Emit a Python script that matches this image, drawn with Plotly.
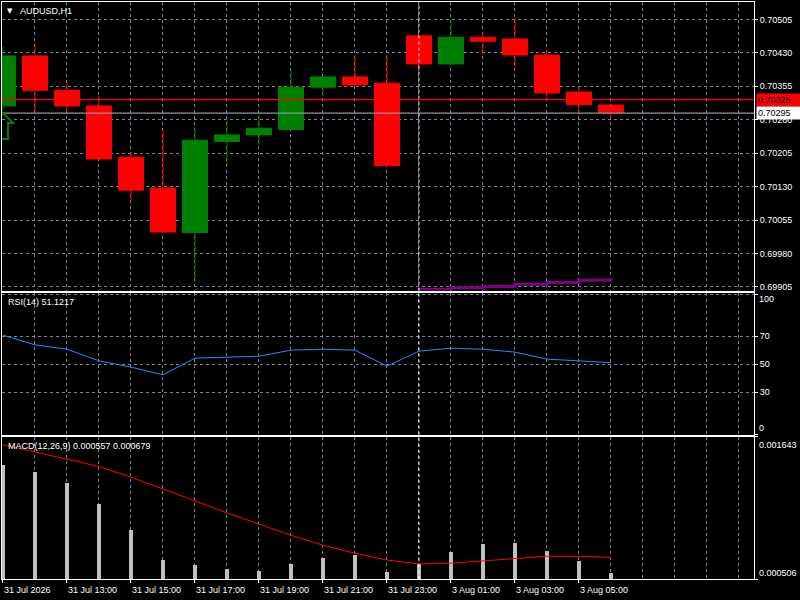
import plotly.graph_objects as go
from plotly.subplots import make_subplots

symbol_label = 'AUDUSD,H1'

# H1 bars, 31 Jul 11:00 -> 3 Aug 06:00 (weekend skipped, like the terminal does)
bar_times = ['31 Jul 11:00', '31 Jul 12:00', '31 Jul 13:00', '31 Jul 14:00', '31 Jul 15:00',
             '31 Jul 16:00', '31 Jul 17:00', '31 Jul 18:00', '31 Jul 19:00', '31 Jul 20:00',
             '31 Jul 21:00', '31 Jul 22:00', '31 Jul 23:00', '3 Aug 00:00', '3 Aug 01:00',
             '3 Aug 02:00', '3 Aug 03:00', '3 Aug 04:00', '3 Aug 05:00', '3 Aug 06:00']

opens = [0.70311, 0.70423, 0.70346, 0.70311, 0.70196, 0.70127, 0.70027, 0.70231, 0.70246, 0.70258,
         0.70353, 0.70376, 0.70362, 0.70468, 0.70405, 0.70465, 0.70461, 0.70425, 0.70342, 0.70313]
highs = [0.70444, 0.70453, 0.70363, 0.70333, 0.70208, 0.70255, 0.70263, 0.70277, 0.70290, 0.70390,
         0.70377, 0.70425, 0.70425, 0.70470, 0.70505, 0.70477, 0.70508, 0.70436, 0.70353, 0.70314]
lows = [0.70300, 0.70294, 0.70299, 0.70190, 0.70096, 0.70027, 0.69917, 0.70176, 0.70223, 0.70256,
        0.70333, 0.70356, 0.70175, 0.70390, 0.70403, 0.70425, 0.70398, 0.70322, 0.70290, 0.70285]
closes = [0.70423, 0.70346, 0.70311, 0.70192, 0.70122, 0.70028, 0.70234, 0.70246, 0.70261, 0.70353,
          0.70376, 0.70358, 0.70177, 0.70405, 0.70465, 0.70456, 0.70425, 0.70340, 0.70314, 0.70295]

# slow moving average, only the tail end is inside the visible price range
ma_values = [None, None, None, None, None, None, None, None, None, None, None, None,
             0.69890, 0.69900, 0.69903, 0.69906, 0.69911, 0.69915, 0.69920, 0.69924]

rsi_values = [70.7, 63.8, 60.7, 52.4, 47.9, 42.4, 54.3, 55.0, 55.7, 60.0,
              60.7, 60.0, 48.6, 59.3, 61.4, 60.7, 58.6, 53.6, 52.1, 51.1217]

macd_main = [0.001421, 0.001365, 0.001277, 0.001109, 0.000901, 0.000661, 0.000621, 0.000588, 0.000572, 0.000629,
             0.000677, 0.000701, 0.000564, 0.000631, 0.000725, 0.000789, 0.000797, 0.000733, 0.000653, 0.000557]
macd_signal = [0.001579, 0.001523, 0.001464, 0.001405, 0.001320, 0.001227, 0.001131, 0.001034, 0.000944, 0.000856,
               0.000776, 0.000712, 0.000658, 0.000626, 0.000632, 0.000650, 0.000672, 0.000688, 0.000688, 0.000679]

ask_price = 0.70325
bid_price = 0.70295
buy_arrow_price = 0.70295

x_tick_text = ['31 Jul 2026', '31 Jul 13:00', '31 Jul 15:00', '31 Jul 17:00', '31 Jul 19:00',
               '31 Jul 21:00', '31 Jul 23:00', '3 Aug 01:00', '3 Aug 03:00', '3 Aug 05:00']

price_range = [0.69897, 0.70544]
macd_range = [0.000506, 0.001643]

bar_pos = list(range(len(bar_times)))
tick_pos = bar_pos[::2]
day_sep = bar_times.index('3 Aug 00:00')

GRID = '#778899'
FONT = 'Liberation Sans'

fig = make_subplots(rows=3, cols=1, shared_xaxes=True)

fig.add_trace(go.Candlestick(x=bar_pos, open=opens, high=highs, low=lows, close=closes,
                             increasing=dict(line=dict(color='#008000', width=1), fillcolor='#008000'),
                             decreasing=dict(line=dict(color='#FF0000', width=1), fillcolor='#FF0000'),
                             whiskerwidth=0, hoverinfo='skip'),
              row=1, col=1)
fig.add_trace(go.Scatter(x=bar_pos, y=ma_values, mode='lines', line=dict(color='#800080', width=3, shape='hv')),
              row=1, col=1)

fig.add_trace(go.Scatter(x=bar_pos, y=rsi_values, mode='lines', line=dict(color='#1E90FF', width=1)),
              row=2, col=1)

fig.add_trace(go.Bar(x=bar_pos, y=macd_main, width=0.1, marker=dict(color='#C0C0C0', line=dict(width=0))),
              row=3, col=1)
fig.add_trace(go.Scatter(x=bar_pos, y=macd_signal, mode='lines', line=dict(color='#FF0000', width=1)),
              row=3, col=1)

# axes: every bar gets a grid line, labels only every second bar
axis_common = dict(showline=True, mirror=True, linecolor='white', linewidth=1, zeroline=False)
for r in (1, 2, 3):
    fig.update_xaxes(range=[-0.03, 23.47], tick0=0, dtick=1, showgrid=True, gridcolor=GRID,
                     griddash='3px,3px', gridwidth=1, showticklabels=False, ticks='',
                     rangeslider_visible=False, row=r, col=1, **axis_common)
fig.update_xaxes(tickvals=tick_pos, ticks='outside', ticklen=3, tickcolor='white',
                 minor=dict(dtick=1, tick0=0, showgrid=True, gridcolor=GRID, griddash='3px,3px'),
                 row=3, col=1)

fig.update_yaxes(side='right', range=price_range, tick0=0.69905, dtick=0.00075, tickformat='.5f',
                 showgrid=True, gridcolor=GRID, griddash='3px,3px', ticks='outside', ticklen=3,
                 tickcolor='white', tickfont=dict(color='white', size=9, family=FONT),
                 domain=[0.5, 1], row=1, col=1, **axis_common)
fig.update_yaxes(side='right', range=[-0.3, 101], tickvals=[0, 30, 50, 70, 100], ticktext=['', '30', '50', '70', ''],
                 showgrid=True, gridcolor=GRID, griddash='3px,3px', ticks='outside', ticklen=3,
                 tickcolor='white', tickfont=dict(color='white', size=9, family=FONT),
                 domain=[0.2501, 0.4962], row=2, col=1, **axis_common)
fig.update_yaxes(side='right', range=macd_range, tickvals=macd_range, showticklabels=False,
                 showgrid=False, ticks='outside', ticklen=3, tickcolor='white',
                 domain=[0, 0.2466], row=3, col=1, **axis_common)

# bid / ask lines
fig.add_hline(y=ask_price, line=dict(color='#FF0000', width=1.3), row=1, col=1)
fig.add_hline(y=bid_price, line=dict(color='#8C96A0', width=1.3), row=1, col=1)

# day separator in all three windows
for xr, yr in (('x', 'y'), ('x2', 'y2'), ('x3', 'y3')):
    fig.add_shape(type='line', xref=xr, yref=yr + ' domain', x0=day_sep, x1=day_sep, y0=0, y1=1,
                  line=dict(color='white', width=1, dash='3px,3px'))

# buy arrow object drawn at the first bar
fig.add_shape(type='path', xref='x', yref='y', xsizemode='pixel', ysizemode='pixel',
              xanchor=bar_pos[0], yanchor=buy_arrow_price,
              path='M 0 0 L 10 -10 L 5 -10 L 5 -26 L -5 -26 L -5 -10 L -10 -10 Z',
              line=dict(color='#008000', width=2), fillcolor='rgba(0,0,0,0)')

txt = dict(color='white', size=9, family=FONT)
ann = [
    dict(text='▼', xref='x domain', yref='y domain', x=0, y=1, xanchor='left', yanchor='top',
         xshift=3, yshift=-3, showarrow=False, font=dict(color='white', size=7, family='DejaVu Sans')),
    dict(text=symbol_label, xref='x domain', yref='y domain', x=0, y=1, xanchor='left', yanchor='top',
         xshift=16, yshift=-2, showarrow=False, font=txt),
    dict(text='RSI(14) %.4f' % rsi_values[-1], xref='x2 domain', yref='y2 domain', x=0, y=1,
         xanchor='left', yanchor='top', xshift=4, yshift=-2, showarrow=False, font=txt),
    dict(text='MACD(12,26,9) %.6f %.6f' % (macd_main[-1], macd_signal[-1]), xref='x3 domain', yref='y3 domain',
         x=0, y=1, xanchor='left', yanchor='top', xshift=4, yshift=-2, showarrow=False, font=txt),
    dict(text='100', xref='paper', yref='y2', x=1, y=100, xanchor='left', yanchor='middle',
         xshift=3, yshift=-5, showarrow=False, font=txt),
    dict(text='0', xref='paper', yref='y2', x=1, y=0, xanchor='left', yanchor='middle',
         xshift=3, yshift=6, showarrow=False, font=txt),
    dict(text='%.6f' % macd_range[1], xref='paper', yref='y3', x=1, y=macd_range[1], xanchor='left',
         yanchor='middle', xshift=3, yshift=-8, showarrow=False, font=txt),
    dict(text='%.6f' % macd_range[0], xref='paper', yref='y3', x=1, y=macd_range[0], xanchor='left',
         yanchor='middle', xshift=3, yshift=6, showarrow=False, font=txt),
    dict(text='%.5f' % ask_price, xref='paper', yref='y', x=1, y=ask_price, xanchor='left', yanchor='middle',
         xshift=2, width=42, height=10, align='left', bgcolor='#FF0000', showarrow=False,
         font=dict(color='black', size=9, family=FONT)),
    dict(text='%.5f' % bid_price, xref='paper', yref='y', x=1, y=bid_price, xanchor='left', yanchor='middle',
         xshift=2, width=42, height=10, align='left', bgcolor='white', showarrow=False,
         font=dict(color='black', size=9, family=FONT)),
]
for p, t in zip(tick_pos, x_tick_text):
    ann.append(dict(text=t, xref='x3', yref='paper', x=p, y=0, xanchor='left', yanchor='top',
                    xshift=-1, yshift=-4, showarrow=False, font=txt))

fig.update_layout(width=800, height=600, margin=dict(l=2, r=46, t=2, b=21),
                  paper_bgcolor='black', plot_bgcolor='black', showlegend=False,
                  boxgap=0.22, boxgroupgap=0, bargap=0, annotations=ann,
                  font=dict(family=FONT, size=9, color='white'))

# the page body has a default 8px margin, drop it so the figure sits at 0,0
fig.write_html('out.html', config={'displayModeBar': False},
               post_script="document.body.style.margin='0';")
